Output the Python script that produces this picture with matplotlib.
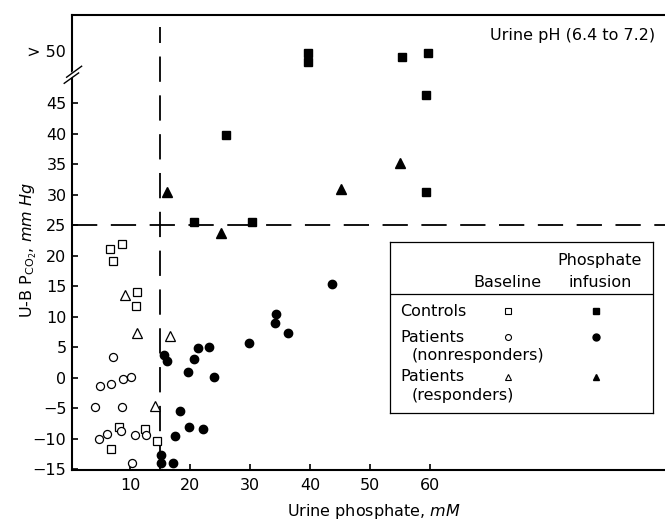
import matplotlib
matplotlib.use('Agg')
import matplotlib.pyplot as plt

plt.rcParams['font.family'] = ['DejaVu Sans']
plt.rcParams['mathtext.fontset'] = 'dejavusans'

# Controls (open = baseline, filled = phosphate infusion)
ctrl_base_x = [6.7, 7.2, 8.6, 11.1, 10.9, 8.1, 12.4, 14.4, 6.8]
ctrl_base_y = [21.2, 19.2, 22.0, 14.1, 11.8, -8.1, -8.4, -10.3, -11.7]
ctrl_inf_x = [20.6, 25.9, 30.3, 39.7, 39.7, 55.4, 59.7, 59.4, 59.4]
ctrl_inf_y = [25.6, 39.9, 25.6, 53.3, 51.8, 52.6, 53.2, 46.4, 30.4]

# Patients, nonresponders
nonr_base_x = [7.2, 5.0, 6.8, 8.8, 10.1, 4.1, 8.7, 4.8, 6.2, 8.4, 10.8, 12.7, 10.3]
nonr_base_y = [3.5, -1.3, -1.0, -0.2, 0.2, -4.8, -4.7, -10.0, -9.2, -8.7, -9.3, -9.3, -13.9]
nonr_inf_x = [15.6, 16.1, 19.7, 20.6, 21.3, 23.2, 24.0, 29.9, 18.3, 19.8, 22.1,
              17.5, 15.2, 15.2, 17.2, 43.6, 34.3, 34.2, 36.4]
nonr_inf_y = [3.8, 2.8, 0.9, 3.1, 4.9, 5.0, 0.2, 5.8, -5.5, -8.0, -8.4,
              -9.6, -12.6, -14.0, -14.0, 15.4, 10.5, 9.0, 7.3]

# Patients, responders
resp_base_x = [9.2, 11.1, 16.6, 14.1]
resp_base_y = [13.6, 7.3, 6.8, -4.6]
resp_inf_x = [16.1, 25.1, 45.2, 55.0]
resp_inf_y = [30.5, 23.7, 30.9, 35.2]

x_ticks = [10, 20, 30, 40, 50, 60]
y_ticks = [-15, -10, -5, 0, 5, 10, 15, 20, 25, 30, 35, 40, 45]
phosphate_cut = 15
pco2_cut = 25

FS = 11.5

fig = plt.figure(figsize=(6.65, 5.21), dpi=100)
ax = fig.add_axes([0.1083, 0.0979, 0.8917, 0.8733])

open_kw = dict(linestyle='none', markerfacecolor='white', markeredgecolor='black',
               markeredgewidth=0.9, zorder=3)
fill_kw = dict(linestyle='none', color='black', zorder=3)

ax.plot(ctrl_base_x, ctrl_base_y, marker='s', markersize=5.2, **open_kw)
ax.plot(nonr_base_x, nonr_base_y, marker='o', markersize=5.8, **open_kw)
ax.plot(resp_base_x, resp_base_y, marker='^', markersize=7, **open_kw)
ax.plot(ctrl_inf_x, ctrl_inf_y, marker='s', markersize=5.5, **fill_kw)
ax.plot(nonr_inf_x, nonr_inf_y, marker='o', markersize=6, **fill_kw)
ax.plot(resp_inf_x, resp_inf_y, marker='^', markersize=7, **fill_kw)

# threshold lines
ax.axhline(pco2_cut, color='black', lw=1.3, linestyle=(0, (14, 7.5)), zorder=2)
ax.plot([phosphate_cut, phosphate_cut], [-15.1, 57.5], color='black', lw=1.3,
        linestyle=(0, (14, 7.5)), zorder=2)

ax.set_xlim(0.3, 99.2)
ax.set_ylim(-15.1, 59.5)
ax.set_xticks(x_ticks)
ax.set_yticks(y_ticks)
ax.tick_params(direction='in', length=4.5, width=1.2, labelsize=FS)
ax.tick_params(axis='y', pad=4)
ax.tick_params(axis='x', pad=6)
ax.spines['right'].set_visible(False)
for s in ['left', 'top', 'bottom']:
    ax.spines[s].set_linewidth(1.5)

ax.text(-0.01, 53.3, '> 50', transform=ax.get_yaxis_transform(), ha='right',
        va='center', fontsize=FS)

# axis break on the y spine
ax.plot([-0.6, 1.4], [49.0, 50.6], color='white', lw=3, clip_on=False, zorder=5)
ax.plot([-0.6, 1.9], [49.3, 51.1], color='black', lw=1.0, clip_on=False, zorder=6)
ax.plot([-1.0, 1.4], [48.3, 50.0], color='black', lw=1.0, clip_on=False, zorder=6)

ax.set_xlabel('Urine phosphate, $\\it{mM}$', fontsize=FS)
ax.xaxis.set_label_coords(0.509, -0.07)
ax.set_ylabel('U-B P$_{\\mathrm{CO_2}}$, $\\it{mm\\ Hg}$', fontsize=FS)
ax.yaxis.set_label_coords(-0.056, 0.483)

ax.text(0.983, 0.955, 'Urine pH (6.4 to 7.2)', transform=ax.transAxes,
        ha='right', va='center', fontsize=FS)

# legend box drawn as a small table
lg = fig.add_axes([0.5865, 0.2073, 0.3955, 0.3282])
lg.set_xlim(0, 263)
lg.set_ylim(171, 0)
lg.set_xticks([])
lg.set_yticks([])
for s in lg.spines.values():
    s.set_linewidth(0.9)
lg.axhline(52, color='black', lw=0.9)
lg.text(210, 18, 'Phosphate', ha='center', va='center', fontsize=FS)
lg.text(210, 40, 'infusion', ha='center', va='center', fontsize=FS)
lg.text(151, 40, 'Baseline', ha='right', va='center', fontsize=FS)

rows = [('Controls', None, 's', 69),
        ('Patients', '(nonresponders)', 'o', 95),
        ('Patients', '(responders)', '^', 135)]
for name, sub, mk, yy in rows:
    lg.text(10, yy, name, ha='left', va='center', fontsize=FS)
    if sub:
        lg.text(22, yy + 19, sub, ha='left', va='center', fontsize=FS)
    lg.plot([118], [yy], marker=mk, markersize=4.3, linestyle='none',
            markerfacecolor='white', markeredgecolor='black', markeredgewidth=0.8)
    lg.plot([206], [yy], marker=mk, markersize=5, linestyle='none', color='black')

fig.savefig('out.png', dpi=100)
